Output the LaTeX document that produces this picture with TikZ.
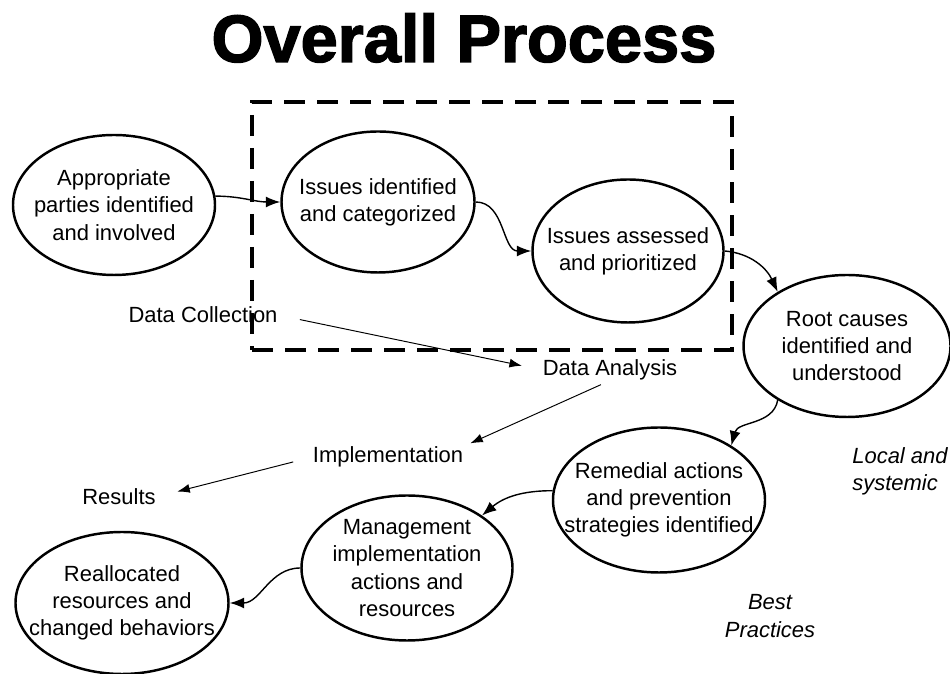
\documentclass[tikz,border=0pt]{standalone}
\usepackage{fontspec}
\setmainfont{Liberation Sans}
\newfontfamily\titlefont[FakeBold=2.2]{Liberation Sans Bold}
\usetikzlibrary{arrows.meta, shapes.geometric}

\begin{document}
\begin{tikzpicture}[x=0.2mm, y=0.2mm, >={Latex[length=2.9mm, width=2.2mm]},
  font=\fontsize{12.5}{15.5}\selectfont,
  stage/.style={draw, ellipse, line width=1.4pt, inner sep=-1.2cm, align=center},
  flow/.style={->, line width=0.8pt},
  link/.style={-{Latex[length=2.5mm, width=1.8mm]}, line width=0.55pt},
  label/.style={inner sep=0pt},
  dashbox/.style={draw, line width=2.8pt, dash pattern=on 0.42cm off 0.24cm}]

\useasboundingbox (0,0) rectangle (950,674);

% Title
\node[inner sep=0pt, font=\titlefont\fontsize{38}{40}\selectfont] (title) at (464,636) {Overall Process};

% Dashed frame round the two issue stages
\node[dashbox, minimum width=9.6cm, minimum height=4.96cm] (focus) at (492,448) {};

% Stages
\node[stage, minimum width=4.04cm, minimum height=2.8cm] (app) at (114,469) {Appropriate\\parties identified\\and involved};
\node[stage, minimum width=3.86cm, minimum height=2.82cm] (iid) at (378,472) {Issues identified\\and categorized};
\node[stage, minimum width=3.82cm, minimum height=2.86cm] (ias) at (628,423) {Issues assessed\\and prioritized};
\node[stage, minimum width=4.14cm, minimum height=2.84cm] (root) at (847,328) {Root causes\\identified and\\understood};
\node[stage, minimum width=4.24cm, minimum height=2.9cm] (rem) at (659,174) {Remedial actions\\and prevention\\strategies identified};
\node[stage, minimum width=4.22cm, minimum height=2.9cm] (mgmt) at (407,106) {Management\\implementation\\actions and\\resources};
\node[stage, minimum width=4.26cm, minimum height=2.84cm] (real) at (122,71) {Reallocated\\resources and\\changed behaviors};

% Phase labels
\node[label] (dcoll) at (203,359) {Data Collection};
\node[label] (danal) at (610,304) {Data Analysis};
\node[label] (impl) at (388,217) {Implementation};
\node[label] (res) at (119,177) {Results};
\node[label, align=left, anchor=west, font=\fontsize{12.5}{15.5}\selectfont\itshape] (local) at (852,203) {Local and\\systemic};
\node[label, align=center, font=\fontsize{12.5}{15.5}\selectfont\itshape] (best) at (770,58) {Best\\Practices};

% Flow between stages
\draw[flow] (app.5) to[out=0, in=180] (iid.west);
\draw[flow] (iid.east) to[out=0, in=180] (ias.west);
\draw[flow] (ias.east) to[out=-5, in=115] (root.142);
\draw[flow] (root.218) to[out=-100, in=75] (rem.37);
\draw[flow] (rem.175) to[out=180, in=40] (mgmt.35);
\draw[flow] (mgmt.west) to[out=180, in=0] (real.east);

% Flow between phases
\draw[link, shorten <=0.45cm, shorten >=0.42cm] (dcoll.east) -- (danal.west);
\draw[link, shorten <=0.2cm, shorten >=0.15cm] (danal.south) -- (impl.north east);
\draw[link, shorten <=0.4cm, shorten >=0.44cm] (impl.west) -- (res.east);

\end{tikzpicture}
\end{document}
